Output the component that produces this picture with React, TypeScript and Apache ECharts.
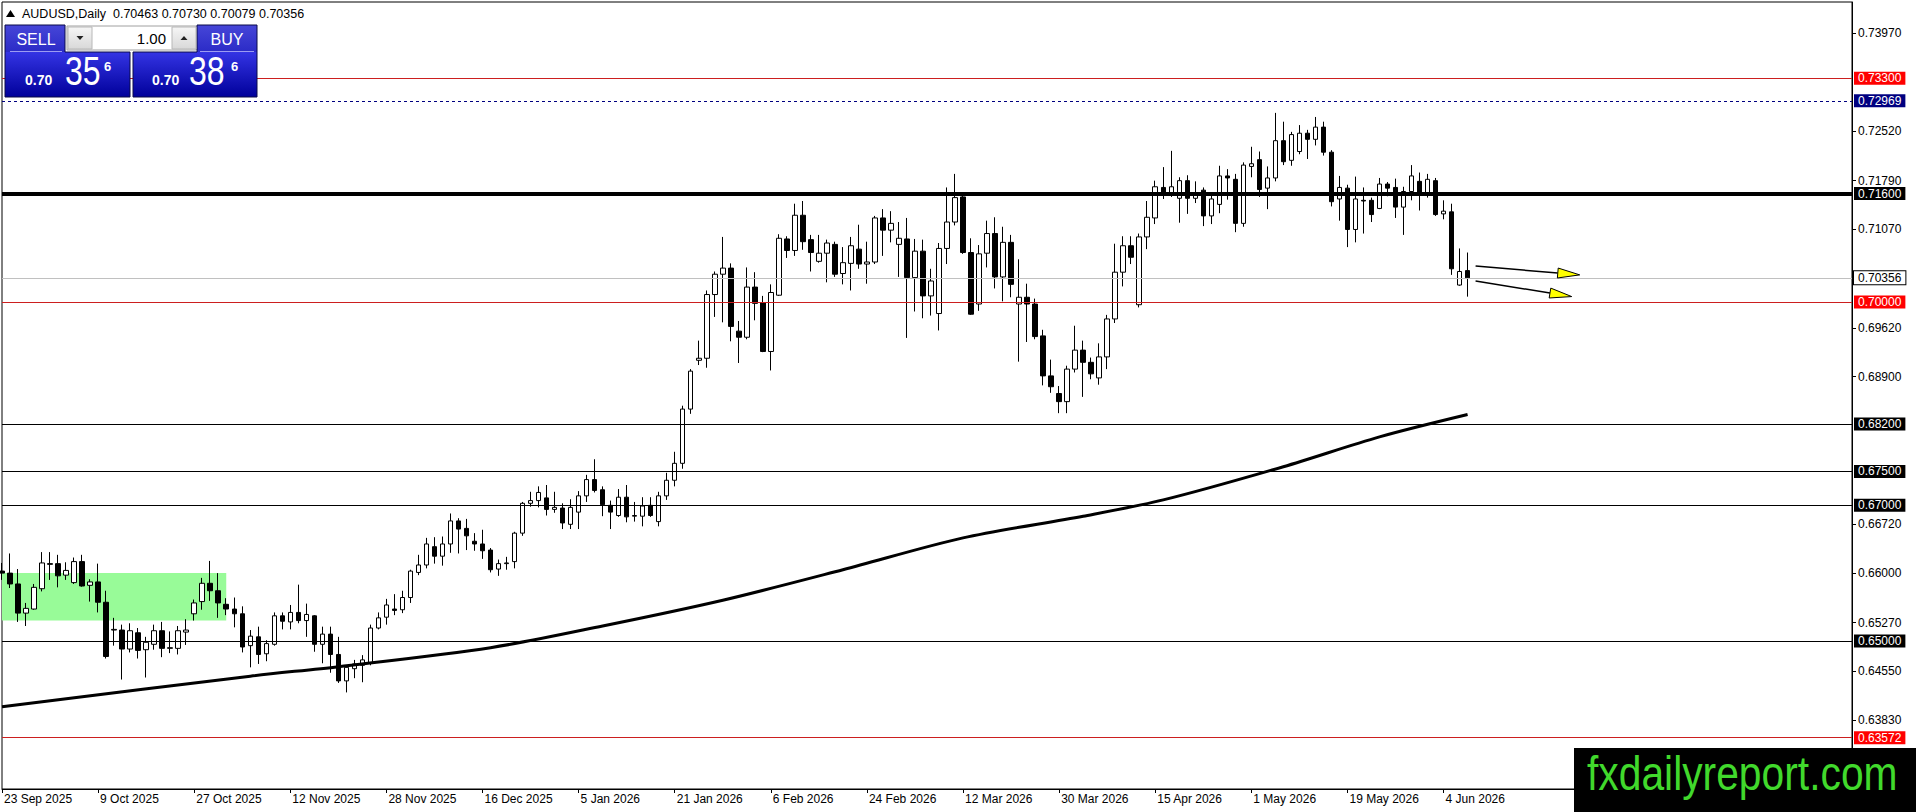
import React, { useEffect, useRef } from 'react';
import * as echarts from 'echarts';

// ---------- text content ----------
const SYMBOL_TITLE = 'AUDUSD,Daily';
const HEADER_OHLC = ['0.70463', '0.70730', '0.70079', '0.70356'];
const SELL_PRICE = ['0.70', '35', '6'];
const BUY_PRICE = ['0.70', '38', '6'];
const LOT_SIZE = '1.00';
const WATERMARK = 'fxdailyreport.com';

// ---------- time axis ----------
const FIRST_DAY = '2025-09-23';
const HOLIDAYS = ['2025-12-25', '2026-01-01'];
const SLOT_COUNT = 232; // bar slots across the chart width (incl. empty future space)
const LABEL_EVERY = 12;
const MONTHS = ['Jan', 'Feb', 'Mar', 'Apr', 'May', 'Jun', 'Jul', 'Aug', 'Sep', 'Oct', 'Nov', 'Dec'];

// ---------- price axis ----------
const Y_MIN = 0.62815;
const Y_MAX = 0.74426;
const yTickValues = [0.7397, 0.7252, 0.7179, 0.7107, 0.6962, 0.689, 0.6672, 0.66, 0.6527, 0.6455, 0.6383];

// ---------- candles: [open, close, low, high] ----------
const candles: number[][] = [
  [0.6603, 0.6600, 0.6590, 0.6615], [0.6600, 0.6584, 0.6578, 0.6629], [0.6584, 0.6541, 0.6528, 0.6606], [0.6541, 0.6548, 0.6522, 0.6556],
  [0.6547, 0.6579, 0.6546, 0.6584], [0.6577, 0.6615, 0.6573, 0.6631], [0.6614, 0.6613, 0.6590, 0.6631], [0.6614, 0.6596, 0.6579, 0.6627],
  [0.6597, 0.6604, 0.6590, 0.6616], [0.6586, 0.6617, 0.6584, 0.6623], [0.6617, 0.6581, 0.6580, 0.6627], [0.6582, 0.6587, 0.6558, 0.6591],
  [0.6587, 0.6557, 0.6542, 0.6614], [0.6557, 0.6477, 0.6474, 0.6574], [0.6516, 0.6517, 0.6493, 0.6534], [0.6516, 0.6488, 0.6443, 0.6524],
  [0.6488, 0.6515, 0.6483, 0.6526], [0.6512, 0.6486, 0.6474, 0.6519], [0.6487, 0.6498, 0.6446, 0.6506], [0.6495, 0.6515, 0.6487, 0.6524],
  [0.6515, 0.6489, 0.6476, 0.6528], [0.6489, 0.6490, 0.6482, 0.6514], [0.6489, 0.6515, 0.6480, 0.6522], [0.6513, 0.6516, 0.6494, 0.6532],
  [0.6540, 0.6556, 0.6530, 0.6561], [0.6558, 0.6585, 0.6546, 0.6593], [0.6585, 0.6574, 0.6559, 0.6618], [0.6574, 0.6556, 0.6534, 0.6600],
  [0.6554, 0.6547, 0.6538, 0.6563], [0.6547, 0.6540, 0.6520, 0.6564], [0.6540, 0.6491, 0.6483, 0.6551], [0.6493, 0.6507, 0.6461, 0.6516],
  [0.6506, 0.6480, 0.6466, 0.6521], [0.6481, 0.6496, 0.6470, 0.6501], [0.6495, 0.6537, 0.6493, 0.6542], [0.6537, 0.6529, 0.6517, 0.6542],
  [0.6528, 0.6542, 0.6517, 0.6553], [0.6542, 0.6530, 0.6526, 0.6583], [0.6530, 0.6539, 0.6506, 0.6555], [0.6537, 0.6495, 0.6484, 0.6538],
  [0.6495, 0.6510, 0.6467, 0.6521], [0.6510, 0.6480, 0.6453, 0.6521], [0.6480, 0.6441, 0.6438, 0.6506], [0.6441, 0.6461, 0.6424, 0.6463],
  [0.6459, 0.6466, 0.6445, 0.6472], [0.6464, 0.6472, 0.6439, 0.6479], [0.6468, 0.6519, 0.6464, 0.6524], [0.6519, 0.6534, 0.6517, 0.6542],
  [0.6535, 0.6553, 0.6524, 0.6562], [0.6547, 0.6545, 0.6538, 0.6569], [0.6546, 0.6564, 0.6541, 0.6574], [0.6564, 0.6603, 0.6556, 0.6605],
  [0.6601, 0.6612, 0.6597, 0.6627], [0.6612, 0.6643, 0.6607, 0.6652], [0.6639, 0.6625, 0.6614, 0.6653], [0.6625, 0.6643, 0.6611, 0.6654],
  [0.6643, 0.6677, 0.6630, 0.6688], [0.6677, 0.6665, 0.6629, 0.6681], [0.6666, 0.6655, 0.6634, 0.6680], [0.6647, 0.6643, 0.6633, 0.6659],
  [0.6643, 0.6633, 0.6621, 0.6664], [0.6634, 0.6605, 0.6601, 0.6637], [0.6606, 0.6614, 0.6596, 0.6620], [0.6614, 0.6615, 0.6605, 0.6624],
  [0.6617, 0.6659, 0.6607, 0.6661], [0.6659, 0.6703, 0.6655, 0.6705], [0.6703, 0.6707, 0.6698, 0.6720], [0.6707, 0.6719, 0.6697, 0.6728],
  [0.6711, 0.6694, 0.6685, 0.6730], [0.6694, 0.6697, 0.6689, 0.6720], [0.6696, 0.6674, 0.6665, 0.6703], [0.6672, 0.6697, 0.6665, 0.6709],
  [0.6690, 0.6714, 0.6665, 0.6721], [0.6714, 0.6738, 0.6705, 0.6745], [0.6738, 0.6722, 0.6719, 0.6768], [0.6723, 0.6701, 0.6684, 0.6728],
  [0.6700, 0.6690, 0.6665, 0.6707], [0.6685, 0.6712, 0.6683, 0.6724], [0.6712, 0.6683, 0.6675, 0.6730], [0.6684, 0.6685, 0.6676, 0.6705],
  [0.6684, 0.6699, 0.6669, 0.6712], [0.6700, 0.6685, 0.6683, 0.6712], [0.6676, 0.6714, 0.6669, 0.6720], [0.6714, 0.6737, 0.6708, 0.6748],
  [0.6737, 0.6762, 0.6728, 0.6779], [0.6762, 0.6842, 0.6754, 0.6847], [0.6842, 0.6898, 0.6835, 0.6901], [0.6914, 0.6917, 0.6907, 0.6943],
  [0.6917, 0.7011, 0.6903, 0.7017], [0.7011, 0.7041, 0.6978, 0.7045], [0.7041, 0.7050, 0.6970, 0.7096], [0.7050, 0.6964, 0.6942, 0.7057],
  [0.6957, 0.6948, 0.6910, 0.6972], [0.6948, 0.7022, 0.6945, 0.7051], [0.7022, 0.6998, 0.6973, 0.7044], [0.6999, 0.6927, 0.6926, 0.7009],
  [0.6927, 0.7014, 0.6899, 0.7026], [0.7010, 0.7094, 0.7009, 0.7100], [0.7093, 0.7076, 0.7065, 0.7097], [0.7076, 0.7128, 0.7068, 0.7145],
  [0.7128, 0.7089, 0.7077, 0.7149], [0.7092, 0.7073, 0.7045, 0.7099], [0.7060, 0.7072, 0.7058, 0.7099], [0.7072, 0.7087, 0.7029, 0.7092],
  [0.7085, 0.7041, 0.7037, 0.7089], [0.7042, 0.7058, 0.7026, 0.7081], [0.7057, 0.7083, 0.7017, 0.7096], [0.7078, 0.7056, 0.7049, 0.7114],
  [0.7056, 0.7059, 0.7027, 0.7089], [0.7059, 0.7124, 0.7056, 0.7127], [0.7124, 0.7106, 0.7068, 0.7137], [0.7106, 0.7116, 0.7088, 0.7134],
  [0.7085, 0.7094, 0.7037, 0.7118], [0.7093, 0.7036, 0.6947, 0.7124], [0.7036, 0.7075, 0.6986, 0.7093], [0.7075, 0.7009, 0.6976, 0.7092],
  [0.7009, 0.7031, 0.6980, 0.7049], [0.6983, 0.7079, 0.6958, 0.7087], [0.7079, 0.7118, 0.7056, 0.7169], [0.7118, 0.7154, 0.7113, 0.7189],
  [0.7155, 0.7073, 0.7071, 0.7160], [0.7073, 0.6982, 0.6981, 0.7094], [0.6997, 0.7071, 0.6987, 0.7084], [0.7072, 0.7101, 0.7051, 0.7120],
  [0.7101, 0.7037, 0.7020, 0.7125], [0.7037, 0.7088, 0.7001, 0.7111], [0.7088, 0.7026, 0.7007, 0.7099], [0.6997, 0.7007, 0.6912, 0.7063],
  [0.7007, 0.6997, 0.6941, 0.7027], [0.6997, 0.6949, 0.6945, 0.7005], [0.6950, 0.6891, 0.6877, 0.6959], [0.6891, 0.6875, 0.6866, 0.6915],
  [0.6865, 0.6853, 0.6836, 0.6876], [0.6853, 0.6901, 0.6836, 0.6906], [0.6901, 0.6929, 0.6896, 0.6965], [0.6929, 0.6911, 0.6860, 0.6943],
  [0.6911, 0.6894, 0.6886, 0.6918], [0.6888, 0.6919, 0.6878, 0.6939], [0.6919, 0.6975, 0.6901, 0.6981], [0.6975, 0.7044, 0.6969, 0.7086],
  [0.7044, 0.7083, 0.7023, 0.7097], [0.7083, 0.7066, 0.7056, 0.7097], [0.6996, 0.7096, 0.6992, 0.7101], [0.7096, 0.7125, 0.7078, 0.7149],
  [0.7124, 0.7170, 0.7115, 0.7179], [0.7169, 0.7159, 0.7152, 0.7199], [0.7159, 0.7170, 0.7155, 0.7223], [0.7153, 0.7179, 0.7117, 0.7184],
  [0.7179, 0.7153, 0.7130, 0.7187], [0.7153, 0.7159, 0.7146, 0.7178], [0.7165, 0.7127, 0.7112, 0.7169], [0.7127, 0.7152, 0.7115, 0.7158],
  [0.7144, 0.7186, 0.7131, 0.7201], [0.7186, 0.7183, 0.7151, 0.7196], [0.7181, 0.7116, 0.7103, 0.7189], [0.7116, 0.7202, 0.7111, 0.7206],
  [0.7200, 0.7204, 0.7184, 0.7229], [0.7210, 0.7166, 0.7155, 0.7222], [0.7168, 0.7183, 0.7137, 0.7200], [0.7183, 0.7238, 0.7178, 0.7279],
  [0.7238, 0.7207, 0.7202, 0.7266], [0.7209, 0.7247, 0.7201, 0.7251], [0.7222, 0.7249, 0.7218, 0.7261], [0.7249, 0.7240, 0.7211, 0.7254],
  [0.7240, 0.7258, 0.7231, 0.7273], [0.7258, 0.7221, 0.7216, 0.7266], [0.7221, 0.7148, 0.7141, 0.7224], [0.7152, 0.7169, 0.7120, 0.7186],
  [0.7168, 0.7107, 0.7081, 0.7173], [0.7107, 0.7152, 0.7088, 0.7185], [0.7150, 0.7149, 0.7101, 0.7169], [0.7150, 0.7129, 0.7118, 0.7154],
  [0.7138, 0.7174, 0.7137, 0.7183], [0.7174, 0.7168, 0.7156, 0.7177], [0.7169, 0.7140, 0.7124, 0.7182], [0.7140, 0.7163, 0.7099, 0.7170],
  [0.7163, 0.7186, 0.7150, 0.7202], [0.7178, 0.7161, 0.7135, 0.7191], [0.7161, 0.7181, 0.7154, 0.7189], [0.7179, 0.7129, 0.7127, 0.7183],
  [0.7130, 0.7134, 0.7122, 0.7150], [0.7133, 0.7049, 0.7040, 0.7145], [0.7025, 0.7045, 0.7024, 0.7079], [0.70463, 0.70356, 0.70079, 0.7073],
];

// ---------- moving average readings (bar index -> value) ----------
const maBars = [0, 31, 42, 61, 75, 90, 105, 120, 135, 145, 160, 172, 183];
const maValues = [0.6403, 0.6448, 0.6462, 0.649, 0.6522, 0.656, 0.6605, 0.6652, 0.6684, 0.6708, 0.6757, 0.6801, 0.6834];

// ---------- green zone ----------
const zoneBars = [0, 28];
const zonePrices = [0.653, 0.66];

// ---------- horizontal levels ----------
const levelPrices = [0.733, 0.72969, 0.716, 0.70356, 0.7, 0.682, 0.675, 0.67, 0.65, 0.63572];
const levelKinds = ['red', 'navy', 'thick', 'bid', 'red', 'black', 'black', 'black', 'black', 'red'];

// ---------- arrows: [fromBar, fromPrice, toBar, toPrice] ----------
const arrowLines = [
  [184, 0.7053, 197, 0.704],
  [184, 0.7031, 196, 0.7008],
];

const FONT = "'Liberation Sans', Arial, sans-serif";

function buildDates(): string[] {
  const out: string[] = [];
  const d = new Date(FIRST_DAY + 'T00:00:00Z');
  while (out.length < SLOT_COUNT) {
    const dow = d.getUTCDay();
    const iso = d.toISOString().slice(0, 10);
    if (dow !== 0 && dow !== 6 && HOLIDAYS.indexOf(iso) < 0) {
      out.push(`${d.getUTCDate()} ${MONTHS[d.getUTCMonth()]} ${d.getUTCFullYear()}`);
    }
    d.setUTCDate(d.getUTCDate() + 1);
  }
  return out;
}

function levelStyle(kind: string) {
  switch (kind) {
    case 'red':
      return { line: { color: '#cc1f1f', width: 1, type: 'solid' }, bg: '#ff0000', fg: '#ffffff', border: undefined };
    case 'navy':
      return { line: { color: '#000080', width: 1, type: [3, 3] }, bg: '#000080', fg: '#ffffff', border: undefined };
    case 'thick':
      return { line: { color: '#000000', width: 4, type: 'solid' }, bg: '#000000', fg: '#ffffff', border: undefined };
    case 'bid':
      return { line: { color: '#c0c0c0', width: 1, type: 'solid' }, bg: '#ffffff', fg: '#000000', border: '#000000' };
    default:
      return { line: { color: '#000000', width: 1, type: 'solid' }, bg: '#000000', fg: '#ffffff', border: undefined };
  }
}

function buildPanel(): any[] {
  const priceGrad = () =>
    new echarts.graphic.LinearGradient(0, 0, 0, 1, [
      { offset: 0, color: '#3434e4' },
      { offset: 1, color: '#00009a' },
    ]);
  const tabGrad = () =>
    new echarts.graphic.LinearGradient(0, 0, 0, 1, [
      { offset: 0, color: '#4646d8' },
      { offset: 1, color: '#2a2ac6' },
    ]);
  const btnGrad = () =>
    new echarts.graphic.LinearGradient(0, 0, 0, 1, [
      { offset: 0, color: '#f6f6f6' },
      { offset: 1, color: '#d8d8d8' },
    ]);
  const txt = (x: number, y: number, text: string, size: number, color: string, align: string, weight = 'normal', scaleX = 1) => ({
    type: 'text',
    x,
    y,
    scaleX,
    z: 101,
    style: {
      text,
      fill: color,
      font: `${weight} ${size}px ${FONT}`,
      align,
      textAlign: align,
      verticalAlign: 'middle',
      textVerticalAlign: 'middle',
    },
  });
  return [
    // header
    { type: 'polygon', z: 100, shape: { points: [[6, 17], [10.5, 10], [15, 17]] }, style: { fill: '#000' } },
    txt(22, 13.5, `${SYMBOL_TITLE}  ${HEADER_OHLC.join(' ')}`, 12.5, '#000', 'left'),
    // SELL block
    { type: 'rect', z: 100, shape: { x: 5, y: 25, width: 60, height: 28 }, style: { fill: tabGrad() } },
    { type: 'rect', z: 100, shape: { x: 5, y: 52, width: 125, height: 45 }, style: { fill: priceGrad() } },
    { type: 'polygon', z: 101, shape: { points: [[5, 25], [65, 25], [65, 52], [130, 52], [130, 97], [5, 97]] }, style: { fill: 'none', stroke: '#0a0a48', lineWidth: 1 } },
    { type: 'line', z: 101, shape: { x1: 10, y1: 51.5, x2: 62, y2: 51.5 }, style: { stroke: '#9c9cf2', lineWidth: 1 } },
    // BUY block
    { type: 'rect', z: 100, shape: { x: 197, y: 25, width: 60, height: 28 }, style: { fill: tabGrad() } },
    { type: 'rect', z: 100, shape: { x: 133, y: 52, width: 124, height: 45 }, style: { fill: priceGrad() } },
    { type: 'polygon', z: 101, shape: { points: [[197, 25], [257, 25], [257, 97], [133, 97], [133, 52], [197, 52]] }, style: { fill: 'none', stroke: '#0a0a48', lineWidth: 1 } },
    { type: 'line', z: 101, shape: { x1: 200, y1: 51.5, x2: 254, y2: 51.5 }, style: { stroke: '#9c9cf2', lineWidth: 1 } },
    // lot box
    { type: 'rect', z: 100, shape: { x: 67, y: 26, width: 129, height: 24 }, style: { fill: '#fff', stroke: '#a0a0a0', lineWidth: 1 } },
    { type: 'rect', z: 101, shape: { x: 68, y: 27, width: 24, height: 22 }, style: { fill: btnGrad(), stroke: '#b8b8b8', lineWidth: 1 } },
    { type: 'rect', z: 101, shape: { x: 172, y: 27, width: 24, height: 22 }, style: { fill: btnGrad(), stroke: '#b8b8b8', lineWidth: 1 } },
    { type: 'polygon', z: 102, shape: { points: [[76.5, 36], [83.5, 36], [80, 40]] }, style: { fill: '#222' } },
    { type: 'polygon', z: 102, shape: { points: [[180.5, 40], [187.5, 40], [184, 36]] }, style: { fill: '#222' } },
    txt(166, 38.5, LOT_SIZE, 15, '#000', 'right'),
    txt(36, 39.5, 'SELL', 16, '#fff', 'center'),
    txt(227, 39.5, 'BUY', 16, '#fff', 'center'),
    // prices
    txt(25, 79.5, SELL_PRICE[0], 14, '#fff', 'left', 'bold'),
    txt(65, 71.5, SELL_PRICE[1], 40, '#fff', 'left', 'normal', 0.8),
    txt(104, 66.5, SELL_PRICE[2], 13, '#fff', 'left', 'bold'),
    txt(152, 79.5, BUY_PRICE[0], 14, '#fff', 'left', 'bold'),
    txt(189, 71.5, BUY_PRICE[1], 40, '#fff', 'left', 'normal', 0.8),
    txt(231, 66.5, BUY_PRICE[2], 13, '#fff', 'left', 'bold'),
    // watermark
    { type: 'rect', z: 100, shape: { x: 1574, y: 748, width: 342, height: 64 }, style: { fill: '#000' } },
    txt(1587, 773, WATERMARK, 48, '#41d92c', 'left', 'normal', 0.85),
  ];
}

export default function App() {
  const ref = useRef<HTMLDivElement>(null);

  useEffect(() => {
    if (!ref.current) return;
    const chart = echarts.init(ref.current, undefined, { renderer: 'svg' });
    const dates = buildDates();
    const nBars = candles.length;
    const showLabel = (i: number) => i % LABEL_EVERY === 0 && i < nBars;

    const maData: (number | null)[] = new Array(nBars).fill(null);
    maBars.forEach((b, k) => {
      maData[b] = maValues[k];
    });

    const markLineData = levelPrices.map((p, k) => {
      const s = levelStyle(levelKinds[k]);
      return {
        yAxis: p,
        lineStyle: { color: s.line.color, width: s.line.width, type: s.line.type },
        label: {
          show: true,
          position: 'end',
          distance: 2,
          formatter: () => p.toFixed(5),
          color: s.fg,
          backgroundColor: s.bg,
          borderColor: s.border || s.bg,
          borderWidth: s.border ? 1 : 0,
          padding: [1, 4, 0, 4],
          fontSize: 12,
          fontFamily: FONT,
        },
      };
    });

    const option: any = {
      animation: false,
      backgroundColor: '#ffffff',
      grid: {
        left: 2,
        right: 64,
        top: 2,
        bottom: 23,
        show: true,
        borderColor: '#000',
        borderWidth: 1,
        backgroundColor: 'transparent',
        containLabel: false,
        outerBoundsMode: 'none',
      },
      xAxis: {
        type: 'category',
        data: dates,
        boundaryGap: false,
        axisLine: { show: true, lineStyle: { color: '#000', width: 1 } },
        axisTick: { show: true, interval: (i: number) => showLabel(i), length: 4, lineStyle: { color: '#000' } },
        axisLabel: {
          interval: (i: number) => showLabel(i),
          align: 'left',
          margin: 4,
          padding: [0, 0, 0, 2],
          color: '#000',
          fontSize: 12,
          fontFamily: FONT,
        },
        splitLine: { show: false },
      },
      yAxis: {
        type: 'value',
        position: 'right',
        min: Y_MIN,
        max: Y_MAX,
        axisLine: { show: true, lineStyle: { color: '#000', width: 1 } },
        axisTick: { show: true, length: 4, customValues: yTickValues, lineStyle: { color: '#000' } },
        axisLabel: {
          customValues: yTickValues,
          formatter: (v: number) => v.toFixed(5),
          margin: 6,
          color: '#000',
          fontSize: 12,
          fontFamily: FONT,
        },
        splitLine: { show: false },
      },
      series: [
        {
          type: 'candlestick',
          data: candles,
          barWidth: 5,
          z: 2,
          clip: true,
          itemStyle: {
            color: '#ffffff',
            color0: '#000000',
            borderColor: '#000000',
            borderColor0: '#000000',
            borderColorDoji: '#000000',
            borderWidth: 1,
          },
          markArea: {
            silent: true,
            z: 1,
            itemStyle: { color: '#98fb98', borderWidth: 0 },
            data: [[{ xAxis: zoneBars[0], yAxis: zonePrices[1] }, { xAxis: zoneBars[1], yAxis: zonePrices[0] }]],
          },
          markLine: {
            silent: true,
            symbol: ['none', 'none'],
            precision: 5,
            animation: false,
            z: 5,
            data: markLineData,
          },
        },
        {
          type: 'line',
          data: maData,
          connectNulls: true,
          smooth: 0.3,
          showSymbol: false,
          symbol: 'none',
          z: 3,
          lineStyle: { color: '#000', width: 3 },
        },
        {
          type: 'custom',
          z: 6,
          clip: false,
          encode: { x: [0, 2], y: [1, 3] },
          data: arrowLines,
          renderItem: (params: any, api: any) => {
            const p1 = api.coord([api.value(0), api.value(1)]);
            const p2 = api.coord([api.value(2), api.value(3)]);
            const dx = p2[0] - p1[0];
            const dy = p2[1] - p1[1];
            const len = Math.hypot(dx, dy) || 1;
            const ux = dx / len;
            const uy = dy / len;
            const headLen = 22;
            const headW = 5;
            const bx = p2[0] - ux * headLen;
            const by = p2[1] - uy * headLen;
            const nx = -uy;
            const ny = ux;
            return {
              type: 'group',
              children: [
                { type: 'line', shape: { x1: p1[0], y1: p1[1], x2: bx, y2: by }, style: { stroke: '#000', lineWidth: 1.5 } },
                {
                  type: 'polygon',
                  shape: { points: [[p2[0], p2[1]], [bx + nx * headW, by + ny * headW], [bx - nx * headW, by - ny * headW]] },
                  style: { fill: '#ffff00', stroke: '#000', lineWidth: 1 },
                },
              ],
            };
          },
        },
      ],
      graphic: buildPanel(),
    };

    chart.setOption(option);
    return () => {
      chart.dispose();
    };
  }, []);

  return (
    <div
      ref={ref}
      style={{ position: 'fixed', left: 0, top: 0, width: 1916, height: 812, background: '#ffffff' }}
    />
  );
}
